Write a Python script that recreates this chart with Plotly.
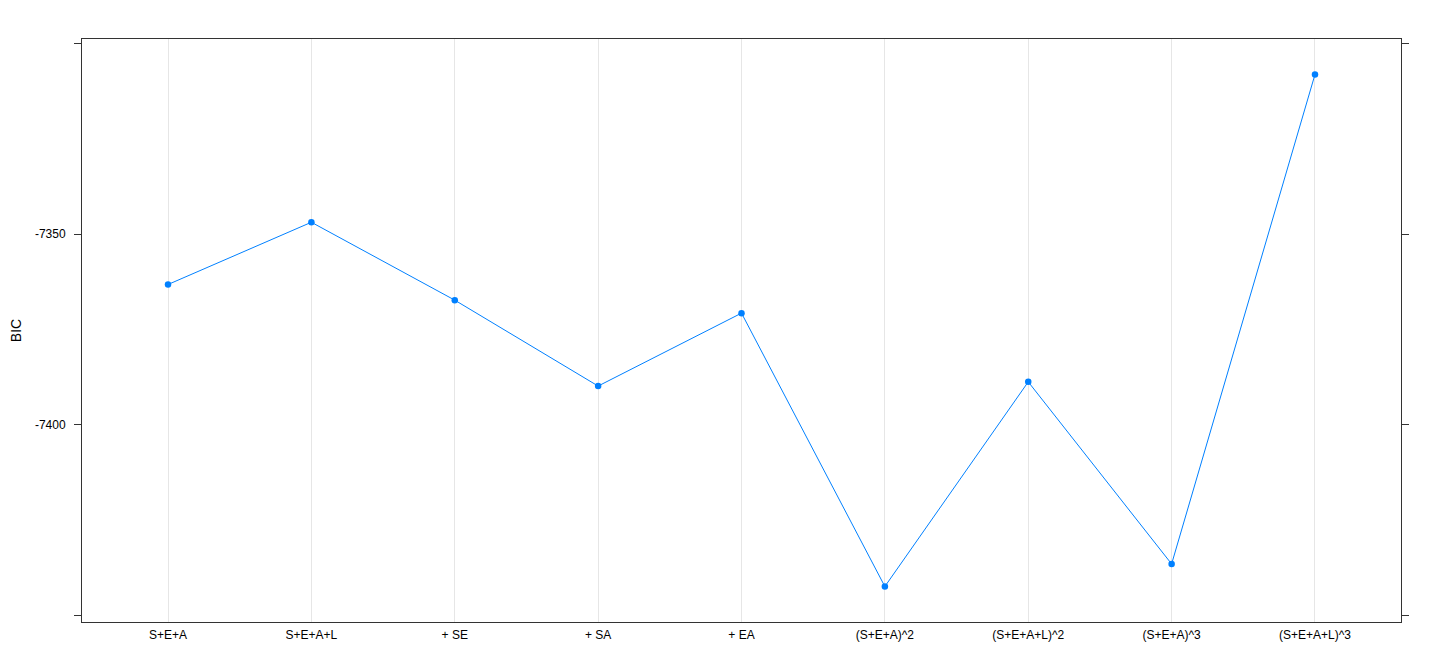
import plotly.graph_objects as go

models = ['S+E+A', 'S+E+A+L', '+ SE', '+ SA', '+ EA',
          '(S+E+A)^2', '(S+E+A+L)^2', '(S+E+A)^3', '(S+E+A+L)^3']
bic = [-7363.2, -7346.9, -7367.3, -7389.8, -7370.7,
       -7442.3, -7388.7, -7436.4, -7308.2]

y_ticks = [-7300, -7350, -7400, -7450]
y_labels = ['', '-7350', '-7400', '']

blue = '#0080ff'
frame = '#333333'

fig = go.Figure()
fig.add_trace(go.Scatter(
    x=list(range(len(models))), y=bic,
    mode='lines+markers',
    line=dict(color=blue, width=1),
    marker=dict(color=blue, size=6.5),
    showlegend=False,
))

# page body adds ~8px offset, so margins are shifted to compensate
fig.update_layout(
    width=1440, height=672,
    margin=dict(l=74, r=47, t=31, b=58),
    plot_bgcolor='white', paper_bgcolor='white',
    font=dict(family='Liberation Sans, Arial, sans-serif', size=12, color='black'),
)

fig.update_xaxes(
    range=[-0.6, len(models) - 0.4],
    tickvals=list(range(len(models))), ticktext=models,
    showgrid=True, gridcolor='#e6e6e6', gridwidth=1,
    showline=True, linecolor=frame, linewidth=1, mirror=True,
    ticks='', zeroline=False, ticklabelstandoff=2, automargin=False,
)
fig.update_yaxes(
    range=[-7451.6, -7298.9],
    tickvals=y_ticks, ticktext=y_labels,
    ticks='outside', ticklen=7, tickcolor=frame, tickwidth=1,
    showgrid=False, zeroline=False, ticklabelstandoff=6, automargin=False,
    showline=True, linecolor=frame, linewidth=1, mirror='allticks',
    title=dict(text='BIC', font=dict(size=14), standoff=16),
)

fig.write_html('out.html')
